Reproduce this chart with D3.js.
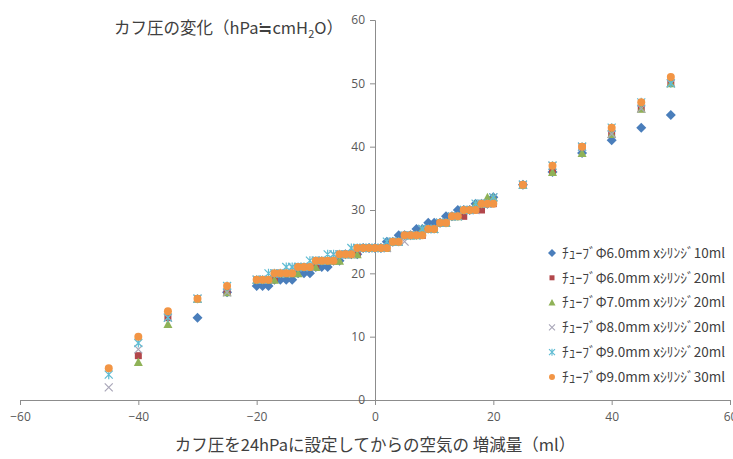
<!DOCTYPE html>
<html>
<head>
<meta charset="utf-8">
<script src="https://cdn.jsdelivr.net/npm/d3@7"></script>
<style>
  body { margin: 0; background: #fff; }
  svg { display: block; font-family: "Noto Sans CJK JP", "Noto Sans", sans-serif; }
</style>
</head>
<body>
<div id="chart"></div>
<script>
// 空気量 (ml)
const xValues = [-45, -40, -35, -30, -25,
  -20, -19, -18, -17, -16, -15, -14, -13, -12, -11, -10, -9, -8, -7, -6, -5, -4, -3, -2, -1, 0,
  1, 2, 3, 4, 5, 6, 7, 8, 9, 10, 11, 12, 13, 14, 15, 16, 17, 18, 19, 20,
  25, 30, 35, 40, 45, 50];

// カフ圧 (hPa)
const tube60x10 = [null, null, null, 13, 17,
  18, 18, 18, 19, 19, 19, 19, 20, 20, 20, 21, 21, 21, 22, 22, 23, 23, 23, 24, 24, 24,
  24, 25, 25, 26, 26, 26, 27, 27, 28, 28, 28, 29, 29, 30, 30, 30, 31, 31, 31, 32,
  34, 36, 39, 41, 43, 45];
const tube60x20 = [null, 7, 13, 16, 17,
  19, 19, 19, 19, 20, 20, 20, 21, 21, 21, 21, 22, 22, 22, 23, 23, 23, 23, 24, 24, 24,
  24, 24, 25, 25, 26, 26, 26, 26, 27, 27, 28, 28, 29, 29, 29, 30, 30, 30, 31, 31,
  34, 36, 40, 42, 46, 50];
const tube70x20 = [null, 6, 12, 16, 17,
  19, 19, 19, 19, 20, 20, 20, 20, 21, 21, 21, 22, 22, 22, 22, 23, 23, 23, 24, 24, 24,
  24, 24, 25, 25, 26, 26, 26, 27, 27, 27, 28, 28, 29, 29, 30, 30, 31, 31, 32, 32,
  34, 36, 39, 42, 46, 50];
const tube80x20 = [2, 8, 13, 16, 17,
  19, 19, 19, 20, 20, 20, 21, 21, 21, 21, 22, 22, 22, 23, 23, 23, 23, 24, 24, 24, 24,
  24, 24, 25, 25, 25, 26, 26, 27, 27, 27, 28, 28, 29, 29, 30, 30, 30, 31, 31, 32,
  34, 37, 40, 42, 46, 50];
const tube90x20 = [4, 9, 13, 16, 18,
  19, 19, 20, 20, 20, 21, 21, 21, 21, 22, 22, 22, 23, 23, 23, 23, 24, 24, 24, 24, 24,
  24, 25, 25, 25, 26, 26, 26, 27, 27, 27, 28, 28, 29, 29, 30, 30, 31, 31, 31, 32,
  34, 37, 40, 43, 47, 50];
const tube90x30 = [5, 10, 14, 16, 18,
  19, 19, 19, 20, 20, 20, 20, 21, 21, 21, 22, 22, 22, 22, 23, 23, 23, 24, 24, 24, 24,
  24, 24, 25, 25, 26, 26, 26, 26, 27, 27, 28, 28, 29, 29, 30, 30, 30, 31, 31, 31,
  34, 37, 40, 43, 47, 51];

const seriesNames = [
  "ﾁｭｰﾌﾞΦ6.0mm  xｼﾘﾝｼﾞ10ml",
  "ﾁｭｰﾌﾞΦ6.0mm  xｼﾘﾝｼﾞ20ml",
  "ﾁｭｰﾌﾞΦ7.0mm  xｼﾘﾝｼﾞ20ml",
  "ﾁｭｰﾌﾞΦ8.0mm  xｼﾘﾝｼﾞ20ml",
  "ﾁｭｰﾌﾞΦ9.0mm  xｼﾘﾝｼﾞ20ml",
  "ﾁｭｰﾌﾞΦ9.0mm  xｼﾘﾝｼﾞ30ml"
];
const seriesValues = [tube60x10, tube60x20, tube70x20, tube80x20, tube90x20, tube90x30];
const seriesColors = ["#4a7ebb", "#b2474b", "#8fb257", "#a9a6b8", "#5fbcd3", "#f29545"];
const seriesMarkers = ["diamond", "square", "triangle", "x", "star", "circle"];

const xTicks = [-60, -40, -20, 0, 20, 40, 60];
const yTicks = [0, 10, 20, 30, 40, 50, 60];

const width = 733, height = 459;
const margin = {top: 20, right: 3, bottom: 59, left: 20};

const svg = d3.select("#chart").append("svg")
  .attr("width", width)
  .attr("height", height);

svg.append("rect").attr("width", width).attr("height", height).attr("fill", "#fff");

const x = d3.scaleLinear().domain([-60, 60]).range([margin.left, width - margin.right]);
const y = d3.scaleLinear().domain([0, 60]).range([height - margin.bottom, margin.top]);

// 軸
const xAxis = svg.append("g")
  .attr("transform", "translate(0," + y(0) + ")")
  .call(d3.axisBottom(x).tickValues(xTicks).tickSize(5).tickPadding(7).tickFormat(d3.format("d")));

const yAxis = svg.append("g")
  .attr("transform", "translate(" + x(0) + ",0)")
  .call(d3.axisLeft(y).tickValues(yTicks).tickSize(5).tickPadding(5).tickFormat(d3.format("d")));

[xAxis, yAxis].forEach(a => {
  a.select(".domain").attr("stroke", "#8c8c8c");
  a.selectAll(".tick line").attr("stroke", "#8c8c8c");
  a.selectAll(".tick text")
    .attr("fill", "#595959")
    .style("font-size", "12px")
    .style("font-family", "'Open Sans', 'Noto Sans', sans-serif");
});

// マーカー
function markerPath(type, s) {
  const h = s / 2;
  switch (type) {
    case "diamond": return `M0,${-h - 1}L${h + 1},0L0,${h + 1}L${-h - 1},0Z`;
    case "square": return `M${-h + 0.5},${-h + 0.5}h${s - 1}v${s - 1}h${-(s - 1)}Z`;
    case "triangle": return `M0,${-h - 0.5}L${h + 0.5},${h}L${-h - 0.5},${h}Z`;
    case "x": return `M${-h},${-h}L${h},${h}M${-h},${h}L${h},${-h}`;
    case "star": return `M${-h},${-h}L${h},${h}M${-h},${h}L${h},${-h}M0,${-h - 0.5}V${h + 0.5}`;
    default: return d3.symbol(d3.symbolCircle, s * s * 0.78)();
  }
}
const strokeOnly = t => t === "x" || t === "star";

seriesValues.forEach((vals, i) => {
  const pts = xValues.map((xv, j) => ({x: xv, y: vals[j]})).filter(d => d.y != null);
  const type = seriesMarkers[i];
  svg.append("g")
    .selectAll("path")
    .data(pts)
    .join("path")
    .attr("transform", d => "translate(" + x(d.x) + "," + y(d.y) + ")")
    .attr("d", markerPath(type, 8))
    .attr("fill", strokeOnly(type) ? "none" : seriesColors[i])
    .attr("stroke", strokeOnly(type) ? seriesColors[i] : "none")
    .attr("stroke-width", 1.2);
});

// 凡例
const legend = svg.append("g").attr("transform", "translate(552,253)");
seriesNames.forEach((name, i) => {
  const row = legend.append("g").attr("transform", "translate(0," + i * 24.8 + ")");
  const type = seriesMarkers[i];
  row.append("path")
    .attr("d", markerPath(type, 6))
    .attr("fill", strokeOnly(type) ? "none" : seriesColors[i])
    .attr("stroke", strokeOnly(type) ? seriesColors[i] : "none")
    .attr("stroke-width", 1.1);
  row.append("text")
    .attr("x", 10)
    .attr("dy", "0.36em")
    .attr("fill", "#404040")
    .style("font-size", "13.5px")
    .text(name);
});

// 軸タイトル
const yTitle = svg.append("text")
  .attr("x", 343)
  .attr("y", 34)
  .attr("text-anchor", "end")
  .attr("fill", "#404040")
  .style("font-size", "16.5px");
yTitle.append("tspan").text("カフ圧の変化（hPa≒cmH");
yTitle.append("tspan").attr("dy", 4).style("font-size", "11px").text("2");
yTitle.append("tspan").attr("dy", -4).text("O）");

svg.append("text")
  .attr("x", x(0))
  .attr("y", 451)
  .attr("text-anchor", "middle")
  .attr("fill", "#404040")
  .style("font-size", "16.5px")
  .text("カフ圧を24hPaに設定してからの空気の 増減量（ml）");
</script>
</body>
</html>
